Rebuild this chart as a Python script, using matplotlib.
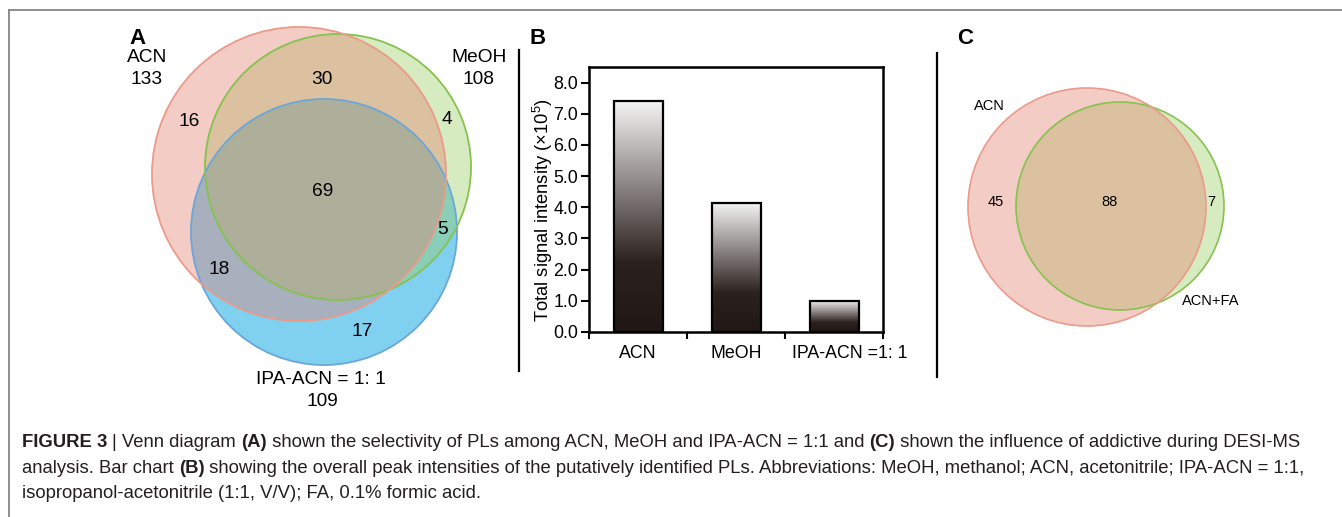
import matplotlib
matplotlib.use('Agg')
import matplotlib.pyplot as plt
import matplotlib.transforms as mtransforms
import numpy as np
from matplotlib.patches import Circle
from matplotlib.colors import LinearSegmentedColormap

plt.rcParams['font.family'] = ['Liberation Sans', 'DejaVu Sans']
plt.rcParams['mathtext.fontset'] = 'custom'
plt.rcParams['mathtext.rm'] = 'Liberation Sans'

# --- data ---
venn_a_names = ['ACN', 'MeOH', 'IPA-ACN = 1: 1']
venn_a_totals = [133, 108, 109]
# only ACN, ACN&MeOH, only MeOH, all three, MeOH&IPA, ACN&IPA, only IPA
venn_a_counts = [16, 30, 4, 69, 5, 18, 17]

venn_c_names = ['ACN', 'ACN+FA']
venn_c_counts = [45, 88, 7]   # only ACN, both, only ACN+FA

bar_labels = ['ACN', 'MeOH', 'IPA-ACN =1: 1']
bar_values = [7.42, 4.15, 1.0]

caption = [
    [("FIGURE 3 ", True), ("| Venn diagram ", False), ("(A)", True),
     (" shown the selectivity of PLs among ACN, MeOH and IPA-ACN = 1:1 and ", False),
     ("(C)", True), (" shown the influence of addictive during DESI-MS", False)],
    [("analysis. Bar chart ", False), ("(B)", True),
     (" showing the overall peak intensities of the putatively identified PLs. "
      "Abbreviations: MeOH, methanol; ACN, acetonitrile; IPA-ACN = 1:1,", False)],
    [("isopropanol-acetonitrile (1:1, V/V); FA, 0.1% formic acid.", False)],
]

W, H = 1342, 517
fig = plt.figure(figsize=(W / 100, H / 100), dpi=100)
ax0 = fig.add_axes([0, 0, 1, 1])
ax0.set_xlim(0, W)
ax0.set_ylim(H, 0)
ax0.axis('off')

# outer frame (top + left)
ax0.plot([9, W], [10, 10], color='#858585', lw=1.3)
ax0.plot([9, 9], [10, H], color='#858585', lw=1.3)

# separators
ax0.plot([519, 519], [50, 371], color='black', lw=1.6)
ax0.plot([937, 937], [53, 377], color='black', lw=1.6)

# panel letters
for s, x in [('A', 137), ('B', 538), ('C', 965)]:
    ax0.text(x, 38, s, fontsize=16, fontweight='bold', ha='center', va='center')

# --- Venn A ---
red_f, red_e = '#E38270', '#EB9A8A'
grn_f, grn_e = '#9BCD66', '#86C24E'
blu_f, blu_e = '#2BB1E6', '#6AA6DA'
ax0.add_patch(Circle((324, 232), 133, fc=blu_f, alpha=0.6, ec='none'))
ax0.add_patch(Circle((338, 167), 133, fc=grn_f, alpha=0.4, ec='none'))
ax0.add_patch(Circle((299, 174), 147, fc=red_f, alpha=0.4, ec='none'))
ax0.add_patch(Circle((324, 232), 133, fc='none', ec=blu_e, lw=1.3))
ax0.add_patch(Circle((338, 167), 133, fc='none', ec=grn_e, lw=1.3))
ax0.add_patch(Circle((299, 174), 147, fc='none', ec=red_e, lw=1.3))

fs_a = 13.8
ax0.text(147, 57, venn_a_names[0], fontsize=fs_a, ha='center', va='center')
ax0.text(147, 80, str(venn_a_totals[0]), fontsize=fs_a, ha='center', va='center')
ax0.text(479, 57, venn_a_names[1], fontsize=fs_a, ha='center', va='center')
ax0.text(479, 80, str(venn_a_totals[1]), fontsize=fs_a, ha='center', va='center')
ax0.text(321, 379, venn_a_names[2], fontsize=fs_a, ha='center', va='center')
ax0.text(322, 402, str(venn_a_totals[2]), fontsize=fs_a, ha='center', va='center')
a_pos = [(189, 121), (322, 80), (447, 119), (323, 191), (443, 229), (219, 270), (362, 332)]
for (x, y), c in zip(a_pos, venn_a_counts):
    ax0.text(x, y, str(c), fontsize=fs_a, ha='center', va='center')

# --- Venn C ---
ax0.add_patch(Circle((1120, 206), 104, fc=grn_f, alpha=0.4, ec='none'))
ax0.add_patch(Circle((1087, 207), 119, fc=red_f, alpha=0.4, ec='none'))
ax0.add_patch(Circle((1120, 206), 104, fc='none', ec=grn_e, lw=1.2))
ax0.add_patch(Circle((1087, 207), 119, fc='none', ec=red_e, lw=1.2))
fs_c = 10.5
ax0.text(989, 106, venn_c_names[0], fontsize=fs_c, ha='center', va='center')
ax0.text(1211, 301, venn_c_names[1], fontsize=fs_c, ha='center', va='center')
for x, c in zip([996, 1109, 1211], venn_c_counts):
    ax0.text(x, 202, str(c), fontsize=fs_c, ha='center', va='center')

# --- caption ---
fig.canvas.draw()
renderer = fig.canvas.get_renderer()
for line, yb in zip(caption, [447, 473, 498]):
    x = 22
    for s, bold in line:
        t = ax0.text(x, yb, s, fontsize=13.3, color='#231f20', va='baseline', ha='left',
                     fontweight='bold' if bold else 'normal')
        x += t.get_window_extent(renderer).width

# --- bar chart B ---
axb = fig.add_axes([589 / W, (H - 332) / H, 294 / W, 265 / H])
cmap = LinearSegmentedColormap.from_list(
    'grad', [(0, '#211714'), (0.3, '#2b211e'), (0.6, '#827b79'), (1, '#f5f5f5')])
xpos = np.arange(len(bar_values))
bars = axb.bar(xpos, bar_values, width=0.5, facecolor='none', edgecolor='black',
               linewidth=1.6, zorder=3)
grad = np.linspace(0, 1, 256).reshape(-1, 1)
for b in bars:
    im = axb.imshow(grad, extent=[b.get_x(), b.get_x() + b.get_width(), 0, b.get_height()],
                    origin='lower', aspect='auto', cmap=cmap, zorder=2)
    im.set_clip_path(b)
axb.set_xlim(-0.5, len(bar_values) - 0.5)
axb.set_ylim(0, 8.5)
axb.set_yticks(np.arange(0, 9, 1.0))
axb.set_yticklabels(['%.1f' % v for v in np.arange(0, 9, 1.0)])
axb.set_xticks(xpos)
axb.set_xticklabels(bar_labels)
axb.set_xticks(np.arange(-0.5, len(bar_values)), minor=True)
axb.tick_params(axis='x', which='major', length=0, pad=9, labelsize=12.8)
axb.tick_params(axis='x', which='minor', length=5, width=1.5, direction='out')
axb.tick_params(axis='y', length=6, width=1.5, direction='out', pad=2, labelsize=12.8)
for sp in axb.spines.values():
    sp.set_linewidth(1.8)
# last label sits a bit right of its bar in the original
lbl = axb.get_xticklabels()[-1]
lbl.set_transform(lbl.get_transform() + mtransforms.ScaledTranslation(16 / 100, 0, fig.dpi_scale_trans))
axb.set_ylabel(r'Total signal intensity (×10$^{5}$)', fontsize=13.2)
axb.yaxis.set_label_coords(-0.115, 0.46)

fig.savefig('out.png', dpi=100)
